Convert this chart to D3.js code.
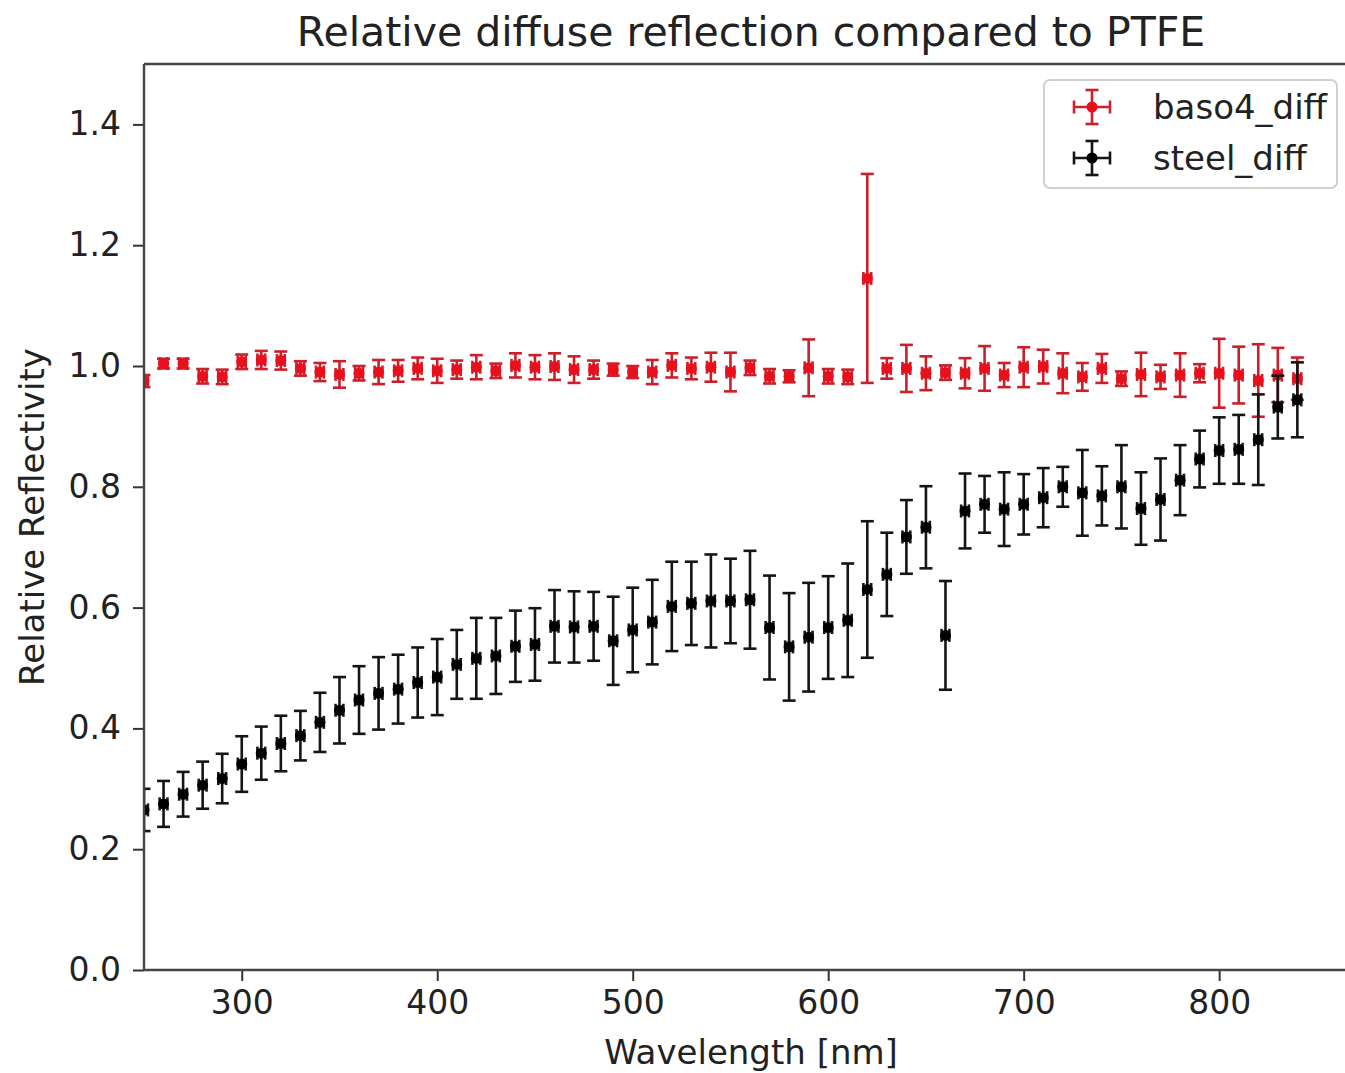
<!DOCTYPE html>
<html><head><meta charset="utf-8">
<script src="https://cdn.jsdelivr.net/npm/d3@7/dist/d3.min.js"></script>
<style>body{margin:0;background:#fff;} svg{display:block;font-family:"DejaVu Sans",sans-serif;}</style>
</head><body><svg id="c" width="1345" height="1073"></svg>
<script>
const wavelengths = [250,260,270,280,290,300,310,320,330,340,350,360,370,380,390,400,410,420,430,440,450,460,470,480,490,500,510,520,530,540,550,560,570,580,590,600,610,620,630,640,650,660,670,680,690,700,710,720,730,740,750,760,770,780,790,800,810,820,830,840];
const baso4Values = [0.975,1.004,1.004,0.983,0.982,1.007,1.010,1.009,0.996,0.990,0.986,0.988,0.990,0.992,0.996,0.992,0.994,0.998,0.992,1.001,0.998,0.999,0.994,0.994,0.994,0.990,0.990,1.001,0.996,0.998,0.990,0.997,0.983,0.983,0.997,0.983,0.982,1.145,0.996,0.996,0.988,0.989,0.988,0.996,0.985,0.998,0.999,0.988,0.982,0.996,0.979,0.986,0.982,0.985,0.988,0.988,0.985,0.976,0.985,0.979];
const baso4Errors = [0.010,0.008,0.008,0.012,0.012,0.012,0.015,0.015,0.012,0.015,0.022,0.012,0.020,0.018,0.018,0.020,0.015,0.020,0.012,0.020,0.020,0.022,0.022,0.015,0.010,0.010,0.020,0.020,0.018,0.024,0.032,0.012,0.012,0.010,0.047,0.012,0.012,0.173,0.017,0.039,0.028,0.012,0.025,0.037,0.020,0.033,0.028,0.033,0.023,0.024,0.012,0.036,0.020,0.036,0.015,0.057,0.047,0.060,0.045,0.035];
const steelValues = [0.265,0.275,0.291,0.306,0.317,0.341,0.359,0.375,0.388,0.410,0.430,0.447,0.458,0.465,0.476,0.485,0.506,0.516,0.520,0.536,0.539,0.569,0.568,0.569,0.545,0.563,0.576,0.602,0.607,0.611,0.611,0.613,0.567,0.535,0.551,0.567,0.579,0.630,0.655,0.717,0.733,0.554,0.760,0.771,0.763,0.771,0.782,0.800,0.790,0.785,0.800,0.764,0.779,0.811,0.846,0.860,0.862,0.878,0.932,0.944];
const steelErrors = [0.035,0.038,0.037,0.039,0.041,0.046,0.044,0.046,0.041,0.049,0.055,0.056,0.060,0.057,0.058,0.063,0.057,0.067,0.063,0.059,0.060,0.060,0.059,0.057,0.073,0.070,0.070,0.074,0.069,0.077,0.070,0.081,0.086,0.089,0.090,0.085,0.094,0.113,0.069,0.061,0.068,0.090,0.062,0.047,0.061,0.050,0.049,0.033,0.071,0.049,0.069,0.060,0.068,0.058,0.047,0.055,0.057,0.075,0.052,0.062];
const xError = 2;
const seriesNames = ["baso4_diff","steel_diff"];
const xTicks = [300,400,500,600,700,800];
const yTicks = [0.0,0.2,0.4,0.6,0.8,1.0,1.2,1.4];
const titleText = "Relative diffuse reflection compared to PTFE";
const xLabel = "Wavelength [nm]";
const yLabel = "Relative Reflectivity";

const svg = d3.select("#c");
const L = 144, R = 1356, T = 64, B = 970;
const x = d3.scaleLinear().domain([250, 870]).range([L, R]);
const y = d3.scaleLinear().domain([0, 1.5]).range([B, T]);

svg.append("defs").append("clipPath").attr("id","clip")
  .append("rect").attr("x",L).attr("y",T).attr("width",R-L).attr("height",B-T);

const series = [
  {name: seriesNames[0], values: baso4Values, errors: baso4Errors, fill: "#e8101c", line: "#cc1f2a"},
  {name: seriesNames[1], values: steelValues, errors: steelErrors, fill: "#000", line: "#151515"}
];

const plot = svg.append("g").attr("clip-path","url(#clip)");
const cap = 6.5, sw = 2.6, mr = 5.5;
series.forEach(s => {
  const g = plot.append("g");
  const pts = wavelengths.map((w,i) => ({w, v: s.values[i], e: s.errors[i]}));
  const pg = g.selectAll("g.pt").data(pts).join("g");
  pg.append("line").attr("x1", d=>x(d.w)).attr("x2", d=>x(d.w))
    .attr("y1", d=>y(d.v-d.e)).attr("y2", d=>y(d.v+d.e))
    .attr("stroke", s.line).attr("stroke-width", sw);
  pg.append("line").attr("x1", d=>x(d.w)-cap).attr("x2", d=>x(d.w)+cap)
    .attr("y1", d=>y(d.v-d.e)).attr("y2", d=>y(d.v-d.e))
    .attr("stroke", s.line).attr("stroke-width", sw);
  pg.append("line").attr("x1", d=>x(d.w)-cap).attr("x2", d=>x(d.w)+cap)
    .attr("y1", d=>y(d.v+d.e)).attr("y2", d=>y(d.v+d.e))
    .attr("stroke", s.line).attr("stroke-width", sw);
  pg.append("line").attr("x1", d=>x(d.w-xError)).attr("x2", d=>x(d.w+xError))
    .attr("y1", d=>y(d.v)).attr("y2", d=>y(d.v))
    .attr("stroke", s.line).attr("stroke-width", sw);
  pg.append("line").attr("x1", d=>x(d.w-xError)).attr("x2", d=>x(d.w-xError))
    .attr("y1", d=>y(d.v)-cap).attr("y2", d=>y(d.v)+cap)
    .attr("stroke", s.line).attr("stroke-width", sw);
  pg.append("line").attr("x1", d=>x(d.w+xError)).attr("x2", d=>x(d.w+xError))
    .attr("y1", d=>y(d.v)-cap).attr("y2", d=>y(d.v)+cap)
    .attr("stroke", s.line).attr("stroke-width", sw);
  pg.append("circle").attr("cx", d=>x(d.w)).attr("cy", d=>y(d.v)).attr("r", mr)
    .attr("fill", s.fill);
});

const xAxis = svg.append("g").attr("transform",`translate(0,${B})`)
  .call(d3.axisBottom(x).tickValues(xTicks).tickFormat(d3.format("d")).tickSize(11).tickPadding(10));
const yAxis = svg.append("g").attr("transform",`translate(${L},0)`)
  .call(d3.axisLeft(y).tickValues(yTicks).tickFormat(d3.format(".1f")).tickSize(11).tickPadding(12));
[xAxis, yAxis].forEach(a => {
  a.select(".domain").remove();
  a.selectAll(".tick line").attr("stroke","#333").attr("stroke-width",2);
  a.selectAll(".tick text").attr("fill","#222").style("font-size","33px").style("font-family","DejaVu Sans");
});
svg.append("line").attr("x1",L).attr("x2",L).attr("y1",T).attr("y2",B).attr("stroke","#444").attr("stroke-width",2.4);
svg.append("line").attr("x1",L).attr("x2",1345).attr("y1",B).attr("y2",B).attr("stroke","#444").attr("stroke-width",2.4);
svg.append("line").attr("x1",L).attr("x2",1345).attr("y1",T).attr("y2",T).attr("stroke","#444").attr("stroke-width",2.4);

svg.append("text").attr("x", 751).attr("y", 46).attr("text-anchor","middle")
  .style("font-size","41px").attr("fill","#222").text(titleText);
svg.append("text").attr("x", 751).attr("y", 1064).attr("text-anchor","middle")
  .style("font-size","34px").attr("fill","#222").text(xLabel);
svg.append("text").attr("transform","translate(44,517) rotate(-90)").attr("text-anchor","middle")
  .style("font-size","34px").attr("fill","#222").text(yLabel);

const lg = svg.append("g");
lg.append("rect").attr("x",1044).attr("y",80).attr("width",293).attr("height",108).attr("rx",6)
  .attr("fill","#fff").attr("fill-opacity",0.8).attr("stroke","#d0d0d0").attr("stroke-width",2);
const legendRows = [107, 158];
series.forEach((s,i) => {
  const cy = legendRows[i], cx = 1092;
  const g = lg.append("g");
  g.append("line").attr("x1",cx).attr("x2",cx).attr("y1",cy-17).attr("y2",cy+17).attr("stroke",s.line).attr("stroke-width",sw);
  g.append("line").attr("x1",cx-cap).attr("x2",cx+cap).attr("y1",cy-17).attr("y2",cy-17).attr("stroke",s.line).attr("stroke-width",sw);
  g.append("line").attr("x1",cx-cap).attr("x2",cx+cap).attr("y1",cy+17).attr("y2",cy+17).attr("stroke",s.line).attr("stroke-width",sw);
  g.append("line").attr("x1",cx-18).attr("x2",cx+18).attr("y1",cy).attr("y2",cy).attr("stroke",s.line).attr("stroke-width",sw);
  g.append("line").attr("x1",cx-18).attr("x2",cx-18).attr("y1",cy-cap).attr("y2",cy+cap).attr("stroke",s.line).attr("stroke-width",sw);
  g.append("line").attr("x1",cx+18).attr("x2",cx+18).attr("y1",cy-cap).attr("y2",cy+cap).attr("stroke",s.line).attr("stroke-width",sw);
  g.append("circle").attr("cx",cx).attr("cy",cy).attr("r",mr).attr("fill",s.fill);
  g.append("text").attr("x",1153).attr("y",cy+12).style("font-size","34px").attr("fill","#222").text(s.name);
});
</script></body></html>
